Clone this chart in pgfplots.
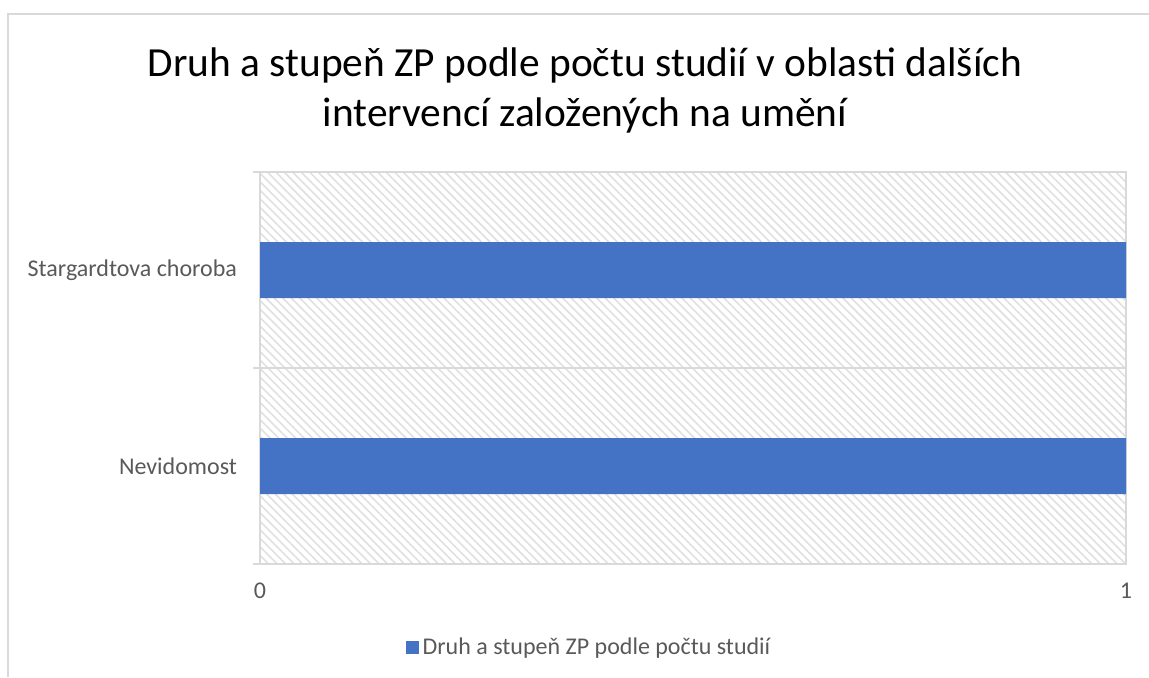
\documentclass[border=0pt]{standalone}
\usepackage{pgfplots}
\pgfplotsset{compat=1.18}
\usepackage{fontspec}
\setmainfont{Carlito}
\usetikzlibrary{patterns.meta}
\definecolor{barblue}{HTML}{4472C4}
\definecolor{txtgray}{HTML}{595959}
\definecolor{gridgray}{HTML}{D9D9D9}
\definecolor{hatchgray}{HTML}{E0E0E0}
\begin{document}
\begin{tikzpicture}
\path[use as bounding box] (0,0) rectangle (574.5pt,338.5pt);
\draw[gridgray, line width=1.2pt] (4pt,0) -- (4pt,331.5pt) -- (574.5pt,331.5pt);
\node[align=center, font=\fontsize{20.7}{25}\selectfont] at (292.5pt,293.5pt)
  {Druh a stupeň ZP podle počtu studií v oblasti dalších\\intervencí založených na umění};
\begin{axis}[
  at={(130pt,56.5pt)}, anchor=south west,
  scale only axis, width=433pt, height=196pt,
  xbar, bar width=28pt,
  xmin=0, xmax=1, ymin=-0.5, ymax=1.5,
  xtick={0,1}, ytick={0,1},
  xticklabels={0,1},
  yticklabels={Nevidomost, Stargardtova choroba},
  minor ytick={-0.5,0.5,1.5}, yminorgrids,
  ytick pos=left,
  minor grid style={gridgray, line width=0.75pt},
  major tick length=0pt, minor tick length=3.5pt, tick align=outside,
  every tick/.style={gridgray, line width=0.75pt},
  axis line style={gridgray, line width=0.75pt},
  axis background/.style={pattern={Lines[angle=-45,distance=3pt,line width=0.8pt]}, pattern color=hatchgray},
  ticklabel style={font=\fontsize{12}{14}\selectfont, text=txtgray},
  xticklabel style={yshift=-6pt},
  yticklabel style={xshift=-8pt},
  /pgf/number format/assume math mode=true,
  legend style={at={(0.381,-0.214)}, anchor=center, draw=none, fill=none,
    font=\fontsize{12}{14}\selectfont, text=txtgray},
  legend image code/.code={\fill[barblue] (0pt,-3.25pt) rectangle (6.5pt,3.25pt);},
]
\addplot[fill=barblue, draw=none] coordinates {(1,0) (1,1)};
\addlegendentry{Druh a stupeň ZP podle počtu studií}
\end{axis}
\end{tikzpicture}
\end{document}
